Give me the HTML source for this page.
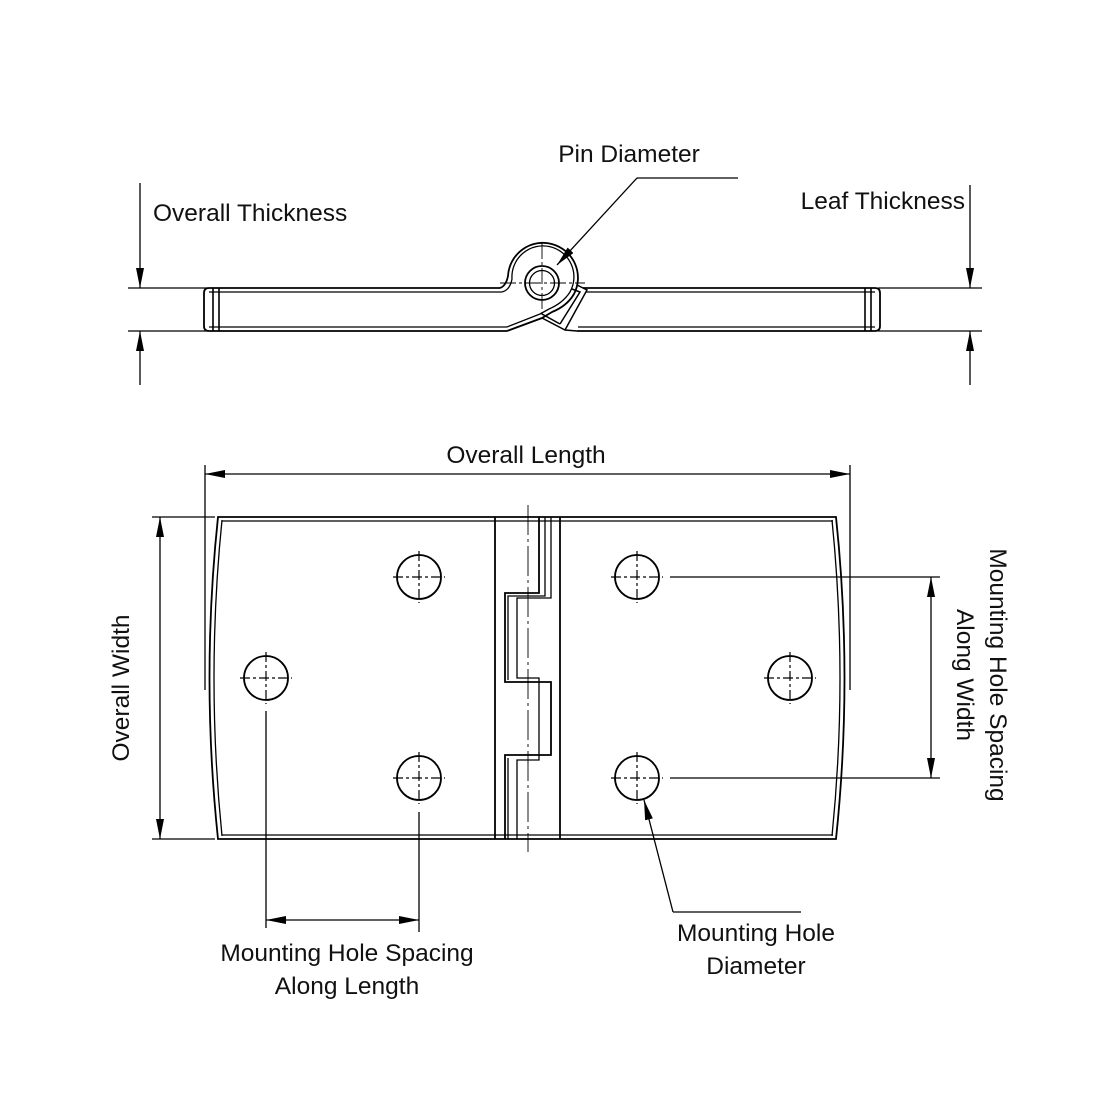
<!DOCTYPE html>
<html><head><meta charset="utf-8"><style>
html,body{margin:0;padding:0;background:#fff;}
svg{display:block;}
text{font-family:"Liberation Sans",sans-serif;font-size:24.5px;fill:#111;}
</style></head><body>
<svg width="1100" height="1100" viewBox="0 0 1100 1100" xmlns="http://www.w3.org/2000/svg">
<defs>
<marker id="ar" viewBox="0 0 20 8" refX="20" refY="4" markerWidth="20" markerHeight="8" markerUnits="userSpaceOnUse" orient="auto">
<path d="M0,0 L20,4 L0,8 z" fill="#000"/></marker>
</defs>
<g fill="none" stroke="#000" stroke-width="1.3">
<line x1="128" y1="288" x2="208" y2="288"/>
<line x1="128" y1="331" x2="208" y2="331"/>
<line x1="878" y1="288" x2="982" y2="288"/>
<line x1="878" y1="331" x2="982" y2="331"/>
<line x1="140" y1="183" x2="140" y2="288" marker-end="url(#ar)"/>
<line x1="140" y1="385" x2="140" y2="331" marker-end="url(#ar)"/>
<line x1="970" y1="185" x2="970" y2="288" marker-end="url(#ar)"/>
<line x1="970" y1="385" x2="970" y2="331" marker-end="url(#ar)"/>
<path d="M500,288 L209,288 Q204,288 204,293 L204,326 Q204,331 209,331 L507,331" stroke-width="1.8"/>
<path d="M502,292 L209,292 M209,327 L507,327"/>
<line x1="213" y1="288" x2="213" y2="331" stroke-width="1.6"/>
<line x1="219" y1="288" x2="219" y2="331" stroke-width="1.6"/>
<path d="M583,288 L875,288 Q880,288 880,293 L880,326 Q880,331 875,331 L577,331" stroke-width="1.8"/>
<path d="M586,292 L875,292 M578,327 L875,327"/>
<line x1="865" y1="288" x2="865" y2="331" stroke-width="1.6"/>
<line x1="871" y1="288" x2="871" y2="331" stroke-width="1.6"/>
<path d="M500,288 Q506,286 508,276 A35,35 0 1 1 574,294 Q567,306 552,312 L542,318 L507,331" stroke-width="1.8"/>
<path d="M502,292 Q510,290 512,279 A31,31 0 1 1 570,292 Q563,303 549,309 L540,314 L507,327"/>
<path d="M542,318 L565,330 L577,331 M542,314 L560,324" stroke-width="1.5"/>
<path d="M577,285 L587,290 L565,330 M572,289 L580,292 L560,324" stroke-width="1.5"/>
<circle cx="542" cy="283" r="17" stroke-width="1.8"/>
<circle cx="542" cy="283" r="12.5"/>
<line x1="500" y1="283" x2="585" y2="283" stroke-width="0.9" stroke-dasharray="16,3,3,3"/>
<line x1="542" y1="243" x2="542" y2="318" stroke-width="0.9" stroke-dasharray="16,3,3,3"/>
<polyline points="738,178 637,178"/>
<line x1="637" y1="178" x2="557" y2="265" marker-end="url(#ar)"/>

<line x1="205" y1="465" x2="205" y2="690"/>
<line x1="850" y1="465" x2="850" y2="690"/>
<line x1="300" y1="474" x2="205" y2="474" marker-end="url(#ar)"/>
<line x1="700" y1="474" x2="850" y2="474" marker-end="url(#ar)"/>
<line x1="300" y1="474" x2="700" y2="474"/>
<line x1="152" y1="517" x2="215" y2="517"/>
<line x1="152" y1="839" x2="215" y2="839"/>
<line x1="160" y1="680" x2="160" y2="517" marker-end="url(#ar)"/>
<line x1="160" y1="680" x2="160" y2="839" marker-end="url(#ar)"/>
<path d="M218,517 L836,517 Q853,678 836,839 L218,839 Q201,678 218,517 z" stroke-width="1.8"/>
<path d="M222,521 L833,521 M222,835 L833,835"/>
<path d="M222,520 Q206,678 222,836"/>
<path d="M832,520 Q848,678 832,836"/>
<line x1="495" y1="517" x2="495" y2="839" stroke-width="1.8"/>
<line x1="560" y1="517" x2="560" y2="839" stroke-width="1.8"/>
<path d="M539,517 L539,593 L505,593 L505,682 L551,682 L551,755 L505,755 L505,839" stroke-width="1.8"/>
<path d="M551,517 L551,598 L517,598 L517,678 L539,678 L539,760 L517,760 L517,839"/>
<path d="M545,517 L545,596 L508,596 L508,680 M508,758 L508,839"/>
<line x1="528" y1="505" x2="528" y2="852" stroke-width="0.9" stroke-dasharray="30,4,3,4"/>
</g>
<g fill="none" stroke="#000">
<g stroke-width="1.8">
<circle cx="419" cy="577" r="22"/><circle cx="266" cy="678" r="22"/><circle cx="419" cy="778" r="22"/>
<circle cx="637" cy="577" r="22"/><circle cx="790" cy="678" r="22"/><circle cx="637" cy="778" r="22"/>
</g>
<g stroke-width="1.2" stroke-dasharray="10,3,3,3">
<line x1="393" y1="577" x2="445" y2="577"/><line x1="419" y1="551" x2="419" y2="603"/>
<line x1="240" y1="678" x2="292" y2="678"/><line x1="266" y1="652" x2="266" y2="704"/>
<line x1="393" y1="778" x2="445" y2="778"/><line x1="419" y1="752" x2="419" y2="804"/>
<line x1="611" y1="577" x2="663" y2="577"/><line x1="637" y1="551" x2="637" y2="603"/>
<line x1="764" y1="678" x2="816" y2="678"/><line x1="790" y1="652" x2="790" y2="704"/>
<line x1="611" y1="778" x2="663" y2="778"/><line x1="637" y1="752" x2="637" y2="804"/>
</g>
<g stroke-width="1.3">
<line x1="266" y1="711" x2="266" y2="928"/>
<line x1="419" y1="812" x2="419" y2="932"/>
<line x1="342" y1="920" x2="266" y2="920" marker-end="url(#ar)"/>
<line x1="342" y1="920" x2="419" y2="920" marker-end="url(#ar)"/>
<line x1="670" y1="577" x2="940" y2="577"/>
<line x1="670" y1="778" x2="940" y2="778"/>
<line x1="931" y1="678" x2="931" y2="577" marker-end="url(#ar)"/>
<line x1="931" y1="678" x2="931" y2="778" marker-end="url(#ar)"/>
<polyline points="801,912 673,912"/>
<line x1="673" y1="912" x2="644" y2="800" marker-end="url(#ar)"/>
</g>
</g>
<text x="629" y="162" text-anchor="middle">Pin Diameter</text>
<text x="153" y="221">Overall Thickness</text>
<text x="965" y="209" text-anchor="end">Leaf Thickness</text>
<text x="526" y="463" text-anchor="middle">Overall Length</text>
<text transform="translate(129,688) rotate(-90)" text-anchor="middle">Overall Width</text>
<text transform="translate(990,675) rotate(90)" text-anchor="middle">Mounting Hole Spacing</text>
<text transform="translate(957,675) rotate(90)" text-anchor="middle">Along Width</text>
<text x="347" y="961" text-anchor="middle">Mounting Hole Spacing</text>
<text x="347" y="994" text-anchor="middle">Along Length</text>
<text x="756" y="941" text-anchor="middle">Mounting Hole</text>
<text x="756" y="974" text-anchor="middle">Diameter</text>
</svg>
</body></html>
